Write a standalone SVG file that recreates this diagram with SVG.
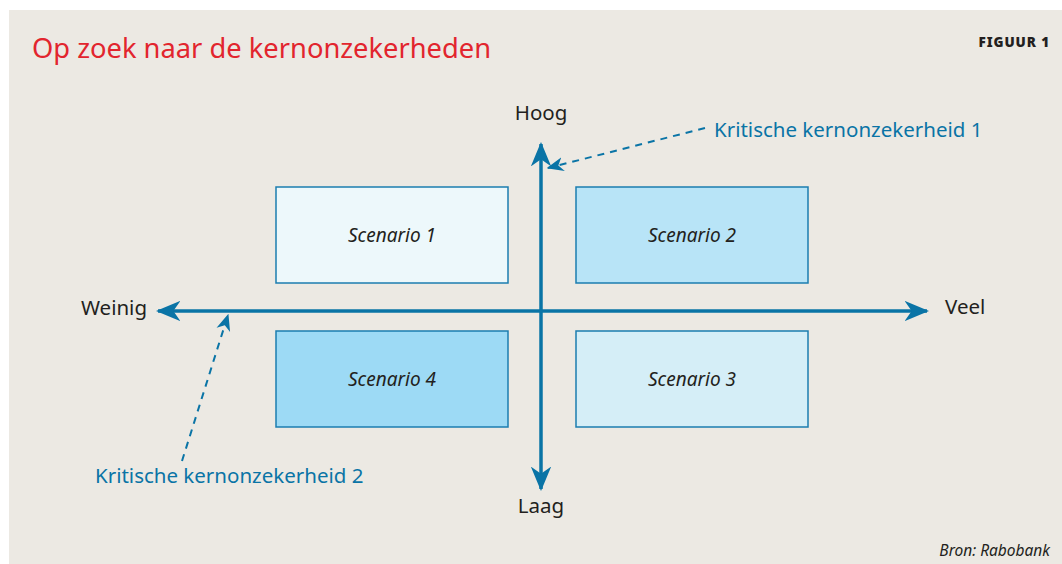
<svg xmlns="http://www.w3.org/2000/svg" width="1062" height="564" viewBox="0 0 1062 564">
<style>
.t{font-family:"Noto Sans","Liberation Sans",sans-serif}
.lab{font-size:20.5px;fill:#231f20}
.sc{font-size:19px;fill:#231f20;font-style:italic;text-anchor:middle}
.blue{font-size:20.5px;fill:#0a74a6}
.box{stroke:#1b7db0;stroke-width:1.5}
.axis{stroke:#0a74a6;stroke-width:3.5;fill:none}
.dash{stroke:#0a74a6;stroke-width:2;stroke-dasharray:7 6;fill:none}
</style>
<defs>
<marker id="ah" viewBox="0 0 12 10" refX="11" refY="5" markerWidth="7" markerHeight="6" orient="auto" markerUnits="strokeWidth">
<path d="M0,0 L12,5 L0,10 L3.5,5 z" fill="#0a74a6"/>
</marker>
<marker id="ahs" viewBox="0 0 12 10" refX="11" refY="5" markerWidth="8.5" markerHeight="7.5" orient="auto" markerUnits="strokeWidth">
<path d="M0,0 L12,5 L0,10 L3.5,5 z" fill="#0a74a6"/>
</marker>
</defs>
<rect x="9" y="10" width="1053" height="554" fill="#ece9e3"/>
<text class="t" x="32" y="58" font-size="27.3" fill="#e2252e">Op zoek naar de kernonzekerheden</text>
<text class="t" x="1050" y="47" font-size="13.5" font-weight="900" fill="#231f20" text-anchor="end" letter-spacing="0.9">FIGUUR 1</text>

<g id="scenario1"><rect class="box" x="276" y="187" width="232" height="96" fill="#edf8fb"/><text class="t sc" x="392" y="242">Scenario 1</text></g>
<g id="scenario2"><rect class="box" x="576" y="187" width="232" height="96" fill="#b8e4f7"/><text class="t sc" x="692" y="242">Scenario 2</text></g>
<g id="scenario4"><rect class="box" x="276" y="331" width="232" height="96" fill="#9ddaf5"/><text class="t sc" x="392" y="386">Scenario 4</text></g>
<g id="scenario3"><rect class="box" x="576" y="331" width="232" height="96" fill="#d5eef7"/><text class="t sc" x="692" y="386">Scenario 3</text></g>

<g id="labels">
<text class="t lab" x="541" y="120" text-anchor="middle">Hoog</text>
<text class="t lab" x="541" y="513" text-anchor="middle">Laag</text>
<text class="t lab" x="147" y="315" text-anchor="end">Weinig</text>
<text class="t lab" x="945" y="314">Veel</text>
<text class="t blue" x="714" y="137">Kritische kernonzekerheid 1</text>
<text class="t blue" x="95" y="483">Kritische kernonzekerheid 2</text>
<text class="t" x="1050" y="556" font-size="15.5" font-style="italic" fill="#231f20" text-anchor="end">Bron: Rabobank</text>
</g>

<g id="connectors">
<line class="axis" x1="541" y1="311" x2="541" y2="144" marker-end="url(#ah)"/>
<line class="axis" x1="541" y1="311" x2="541" y2="489" marker-end="url(#ah)"/>
<line class="axis" x1="541" y1="311" x2="158" y2="311" marker-end="url(#ah)"/>
<line class="axis" x1="541" y1="311" x2="927" y2="311" marker-end="url(#ah)"/>
<line class="dash" x1="705" y1="128" x2="548" y2="168" marker-end="url(#ahs)"/>
<line class="dash" x1="182" y1="461" x2="228" y2="315" marker-end="url(#ahs)"/>
</g>
</svg>
